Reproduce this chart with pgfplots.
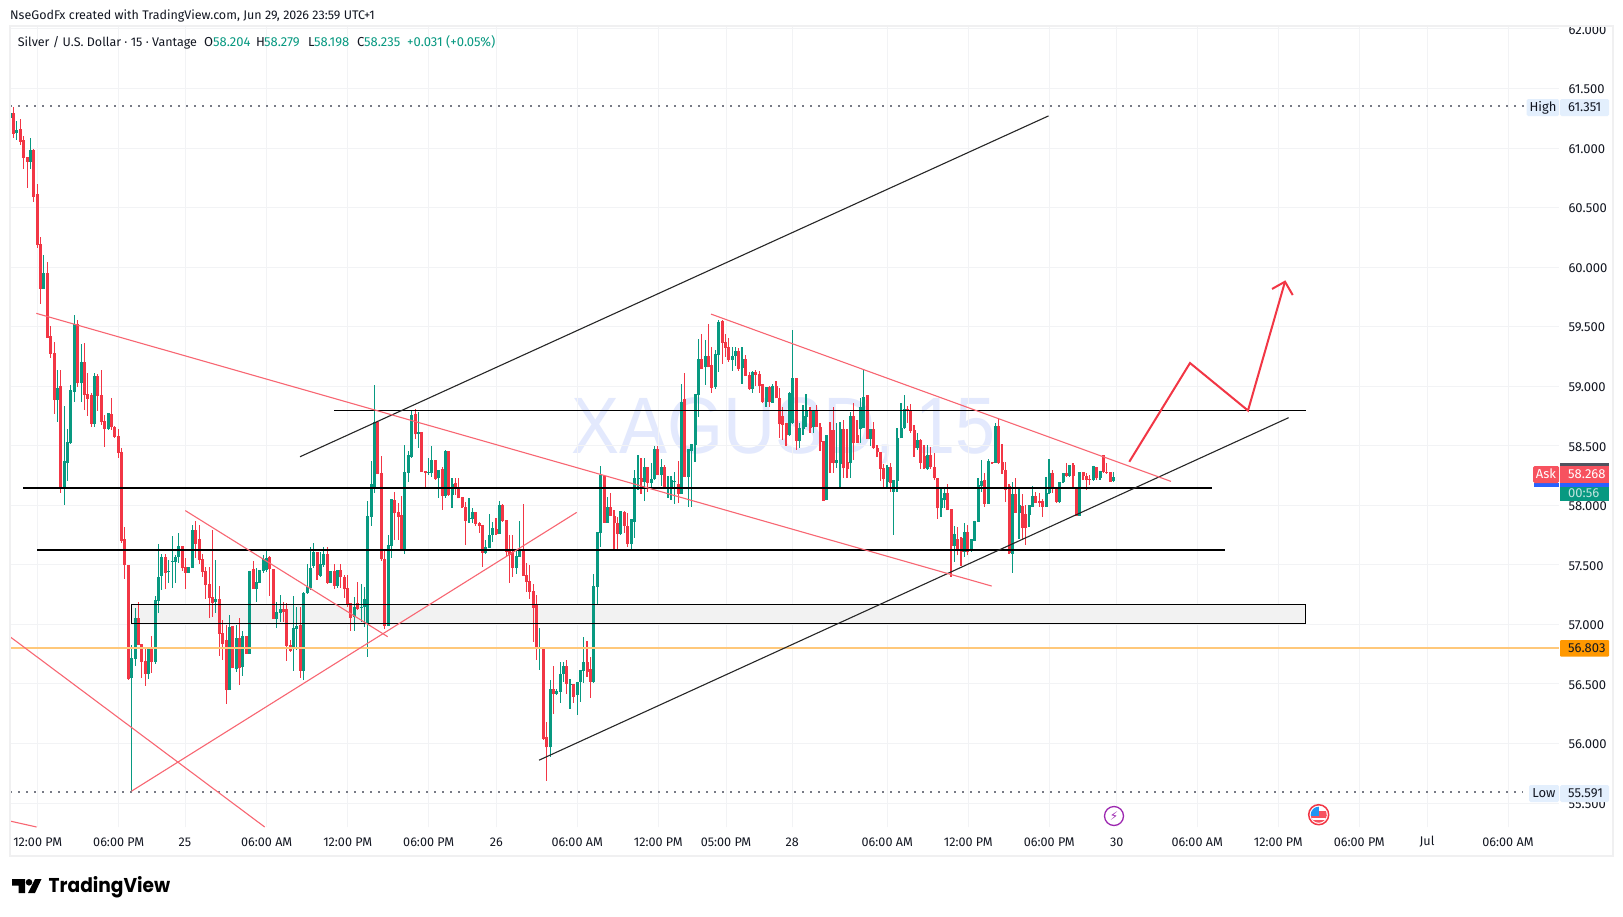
\documentclass[border=0pt]{standalone}
\usepackage{pgfplots}
\usepackage{pgfplotstable}
\usepackage{fontspec}
\pgfplotsset{compat=1.18}
\setmainfont{Fira Sans}
\newfontfamily\logofont{Poppins}
\newfontfamily\wmfont{Liberation Sans}
\newfontfamily\symfont{DejaVu Sans}
\definecolor{tvgreen}{HTML}{089981}
\definecolor{tvred}{HTML}{F23645}
\definecolor{tvline}{HTML}{F86672}
\definecolor{tvlabel}{HTML}{F7525F}
\definecolor{gridc}{HTML}{F2F3F5}
\definecolor{borderc}{HTML}{F0F0F1}
\definecolor{dotc}{HTML}{787B86}
\definecolor{txt}{HTML}{131722}
\definecolor{lblue}{HTML}{E3EFFD}
\definecolor{orangel}{HTML}{FFC87A}
\definecolor{wm}{HTML}{E3E9FD}
\definecolor{cgray}{HTML}{50535E}
\definecolor{cblue}{HTML}{2962FF}
\definecolor{corange}{HTML}{FF9800}
\definecolor{cpurple}{HTML}{9C27B0}
\definecolor{cflag}{HTML}{2196F3}
\pgfplotstableread{
x o h l c
10.5 61.250 61.314 61.054 61.292
16.7 61.130 61.228 61.068 61.152
30.3 60.886 61.085 60.824 60.984
43.7 59.817 60.102 59.817 59.951
57.3 58.884 59.136 58.702 58.985
64.3 58.143 58.834 58.003 58.373
67.3 58.359 58.641 58.207 58.532
70.7 58.521 59.010 58.515 58.968
74.3 58.954 59.598 58.870 59.520
81.3 59.024 59.355 58.870 59.204
94.7 58.683 59.108 58.655 59.086
108.3 58.640 58.778 58.633 58.772
131.3 56.553 56.827 55.591 56.718
135.3 56.710 57.135 56.654 57.051
148.3 56.584 56.813 56.545 56.802
155.3 56.687 57.239 56.668 57.202
158.7 57.200 57.676 57.099 57.396
161.7 57.410 57.592 57.290 57.564
168.7 57.443 57.541 57.345 57.449
172.3 57.525 57.743 57.303 57.530
175.7 57.527 57.583 57.345 57.564
178.7 57.564 57.765 57.513 57.659
188.7 57.435 57.480 57.429 57.480
192.3 57.477 57.832 57.477 57.793
215.3 57.191 57.541 57.099 57.211
229.3 56.449 57.079 56.449 56.978
236.3 56.623 56.995 56.603 56.883
242.3 56.640 56.945 56.567 56.903
249.3 56.752 57.452 56.752 57.452
256.3 57.298 57.471 57.191 57.354
259.3 57.351 57.457 57.351 57.457
263.3 57.449 57.583 57.435 57.547
266.3 57.457 57.631 57.443 57.555
276.3 57.046 57.191 56.973 57.102
280.3 57.099 57.247 57.023 57.127
293.3 56.791 57.239 56.612 56.967
296.3 56.964 57.149 56.785 56.987
303.3 56.612 57.275 56.533 57.261
307.3 57.261 57.507 57.255 57.312
310.3 57.303 57.653 57.290 57.471
313.3 57.491 57.687 57.471 57.608
320.3 57.407 57.611 57.396 57.508
323.3 57.499 57.648 57.485 57.591
330.3 57.351 57.449 57.345 57.449
337.3 57.323 57.457 57.303 57.457
354.3 57.065 57.233 56.948 57.144
361.3 57.141 57.340 57.023 57.146
364.3 57.146 57.317 56.976 57.214
367.3 57.009 58.039 56.729 57.911
371.3 57.904 58.375 57.829 58.179
374.3 58.148 59.010 58.106 58.702
388.3 56.987 57.751 56.987 57.667
391.3 57.662 58.053 57.561 58.053
404.3 57.616 58.506 57.588 58.279
408.3 58.274 58.456 58.198 58.422
411.3 58.408 58.794 58.400 58.758
418.3 58.596 58.786 58.478 58.615
428.3 58.274 58.394 58.254 58.279
431.3 58.274 58.498 58.234 58.380
438.7 58.226 58.296 58.058 58.296
445.3 58.078 58.464 58.058 58.456
452 58.086 58.226 57.974 58.176
469 57.884 58.058 57.848 57.891
472.3 57.884 57.974 57.848 57.943
485.3 57.602 57.708 57.595 57.649
489.3 57.644 57.927 57.638 57.750
492.3 57.750 57.862 57.694 57.806
499.3 57.756 58.036 57.756 58.002
516.3 57.476 57.624 57.423 57.574
519.3 57.568 57.868 57.568 57.633
539.3 56.798 56.966 56.616 56.804
550.3 55.967 56.532 55.888 56.462
556.3 56.415 56.462 56.408 56.440
560.3 56.434 56.686 56.342 56.588
563.3 56.583 56.686 56.518 56.650
570 56.499 56.538 56.294 56.504
577.3 56.406 56.518 56.238 56.518
580.3 56.518 56.616 56.350 56.616
583.3 56.611 56.891 56.510 56.684
593.3 56.518 57.423 56.510 57.322
597.3 57.316 57.773 57.171 57.773
600.3 57.764 58.332 57.652 58.257
607.3 57.854 58.072 57.848 57.983
620.3 57.759 57.952 57.750 57.952
631.3 57.675 57.882 57.630 57.882
634.7 57.862 58.296 57.722 58.226
638 58.218 58.422 58.128 58.226
644.3 58.195 58.394 58.039 58.324
651.3 58.190 58.352 58.156 58.221
654.3 58.221 58.498 58.213 58.475
661.7 58.254 58.386 58.162 58.324
668 58.134 58.249 58.058 58.156
671 58.134 58.249 58.044 58.212
674.7 58.195 58.282 58.011 58.201
681.7 58.095 59.018 58.095 58.867
688.3 58.240 58.473 57.983 58.473
691.3 58.456 58.515 57.988 58.515
695 58.506 58.932 58.366 58.932
698.3 58.926 59.396 58.744 59.226
705.3 59.158 59.388 59.010 59.254
715.3 58.991 59.304 58.974 59.268
718.3 59.262 59.556 59.122 59.536
732.3 59.220 59.332 59.130 59.254
735.3 59.254 59.332 59.170 59.296
742 59.150 59.332 59.018 59.226
752.3 58.976 59.128 58.946 59.122
766 58.870 58.991 58.828 58.991
772.7 58.862 59.018 58.856 58.999
789.3 58.590 58.954 58.585 58.940
792.3 58.688 59.472 58.680 59.069
799.3 58.543 58.688 58.478 58.646
803 58.641 58.842 58.590 58.750
806 58.744 58.934 58.660 58.792
813.3 58.655 58.800 58.610 58.800
826.7 58.044 58.590 58.044 58.590
836.7 58.352 58.688 58.310 58.380
840 58.346 58.702 58.148 58.638
850.3 58.352 58.786 58.226 58.750
860.3 58.638 58.898 58.526 58.828
863.7 58.646 59.142 58.646 58.912
870.3 58.557 58.641 58.500 58.641
887 58.198 58.338 58.142 58.324
893.7 58.114 58.212 57.750 58.212
897 58.207 58.646 58.114 58.562
901 58.562 58.856 58.562 58.646
904.3 58.646 58.926 58.640 58.809
917.7 58.478 58.604 58.464 58.548
927.7 58.302 58.506 58.295 58.422
941 57.974 58.156 57.899 58.058
944.3 58.044 58.156 57.974 58.100
954.7 57.658 57.826 57.526 57.759
964.3 57.610 57.848 57.563 57.773
971.3 57.616 57.717 57.610 57.717
974.7 57.703 57.871 57.703 57.871
978 57.862 58.226 57.862 58.170
981.3 58.165 58.380 58.114 58.204
988.3 58.011 58.386 58.011 58.372
995.3 58.358 58.688 58.358 58.669
1012.7 57.591 58.198 57.428 58.095
1019 57.938 58.148 57.714 58.002
1029 57.918 58.002 57.815 58.002
1032.3 57.988 58.165 57.988 58.078
1046 57.988 58.240 57.988 58.100
1049 58.100 58.389 58.095 58.268
1059.7 58.025 58.193 58.020 58.193
1063 58.193 58.274 58.190 58.268
1069.3 58.249 58.338 58.240 58.338
1079.7 57.913 58.277 57.913 58.277
1093.3 58.212 58.333 58.205 58.333
1100 58.226 58.291 58.217 58.291
1113.7 58.204 58.279 58.198 58.235
}\greentab
\pgfplotstableread{
x o h l c
13.3 61.298 61.348 61.088 61.121
20.3 61.158 61.244 61.026 61.054
23.7 61.068 61.102 60.824 60.920
27.3 60.925 60.928 60.668 60.886
33.3 60.984 60.992 60.550 60.592
37.3 60.615 60.699 60.164 60.186
40.7 60.195 60.253 59.693 59.817
47.3 59.951 60.043 59.408 59.408
50.7 59.422 59.506 59.240 59.274
54.3 59.279 59.372 58.767 58.884
60.7 59.002 59.136 58.107 58.143
77.7 59.520 59.556 58.996 59.024
84.7 59.204 59.366 58.800 58.929
87.7 58.935 59.108 58.750 58.896
91.3 58.926 58.946 58.655 58.683
97.7 59.086 59.103 58.795 58.918
101.3 58.926 59.136 58.675 58.702
104.7 58.708 58.758 58.493 58.640
111.3 58.767 58.898 58.633 58.655
114.7 58.661 58.666 58.563 58.577
118.3 58.583 58.638 58.395 58.443
121.7 58.448 58.482 57.687 57.704
124.3 57.718 57.816 57.382 57.499
128.3 57.499 57.499 56.533 56.539
138.3 57.054 57.186 56.830 56.830
141.7 56.836 56.836 56.547 56.687
145.3 56.690 56.813 56.486 56.584
151.7 56.802 56.903 56.589 56.687
165.3 57.564 57.592 57.300 57.435
182.3 57.659 57.659 57.452 57.471
185.3 57.482 57.555 57.298 57.435
195.3 57.793 57.869 57.555 57.676
199.3 57.717 57.835 57.507 57.541
202.3 57.550 57.592 57.401 57.443
205.3 57.452 57.485 57.211 57.331
209.3 57.340 57.485 57.057 57.225
212.3 57.230 57.793 57.065 57.183
219.3 57.211 57.326 56.735 56.923
222.3 56.925 57.037 56.701 56.836
226.3 56.869 56.995 56.332 56.449
232.3 56.987 56.987 56.631 56.631
239.3 56.883 57.051 56.491 56.631
246.3 56.903 56.903 56.752 56.752
253.3 57.466 57.536 57.298 57.298
269.3 57.564 57.575 57.239 57.466
273.3 57.463 57.463 57.046 57.046
283.3 57.127 57.191 57.023 57.102
286.7 57.127 57.183 56.696 56.819
290.3 56.827 56.869 56.771 56.780
300.3 56.995 57.144 56.547 56.612
317 57.608 57.608 57.373 57.415
327.3 57.591 57.648 57.340 57.351
334.3 57.449 57.505 57.295 57.323
340.3 57.457 57.505 57.303 57.396
344.3 57.401 57.412 57.219 57.295
347.3 57.303 57.412 57.150 57.172
350.7 57.177 57.177 56.948 57.057
357.3 57.180 57.359 57.120 57.130
377.7 58.702 58.702 58.263 58.263
381.3 58.268 58.414 57.535 57.546
384.3 57.550 57.631 56.962 56.987
394.7 58.044 58.114 57.708 57.932
398.3 57.940 58.022 57.708 57.904
401.7 57.918 58.078 57.616 57.616
415.3 58.766 58.806 58.559 58.596
421.3 58.615 58.615 58.282 58.282
425.3 58.288 58.288 58.151 58.274
435.3 58.380 58.380 58.212 58.220
442.3 58.304 58.324 57.960 58.078
448.7 58.456 58.456 58.078 58.086
455.3 58.184 58.232 58.086 58.134
458.7 58.151 58.226 58.058 58.058
462 58.067 58.072 57.980 57.983
465.3 57.983 58.030 57.666 57.871
475.3 57.943 57.943 57.826 57.843
479.3 57.848 57.860 57.764 57.826
482.3 57.831 57.831 57.484 57.602
496 57.800 57.890 57.750 57.756
502.3 58.002 58.010 57.865 57.871
506.3 57.876 57.876 57.568 57.610
509.3 57.624 57.750 57.344 57.582
512.3 57.605 57.750 57.400 57.476
523.3 57.633 58.011 57.408 57.408
526.3 57.414 57.512 57.274 57.358
529.3 57.364 57.498 57.213 57.274
533.3 57.280 57.336 56.854 57.140
536.3 57.168 57.246 56.700 56.798
543.3 56.804 56.804 56.034 56.042
546.3 56.051 56.182 55.684 55.967
553.3 56.462 56.650 56.252 56.415
566.3 56.650 56.700 56.420 56.499
573.3 56.504 56.504 56.342 56.392
587 56.684 56.863 56.560 56.602
590.3 56.630 56.728 56.384 56.518
604 58.248 58.248 57.854 57.854
610.3 57.983 58.100 57.913 57.913
614 57.910 57.960 57.630 57.848
617.3 57.848 57.902 57.630 57.759
624.3 57.946 57.955 57.764 57.828
627.7 57.828 57.932 57.652 57.675
641 58.232 58.394 58.092 58.195
647.7 58.324 58.324 58.114 58.190
657.7 58.473 58.498 58.254 58.254
664.3 58.319 58.338 58.137 58.137
678.3 58.179 58.375 58.016 58.095
684.7 58.890 59.108 58.240 58.240
701.3 59.226 59.438 59.144 59.144
708.3 59.254 59.522 59.158 59.158
711.7 59.178 59.326 58.946 58.988
722.3 59.548 59.556 59.184 59.366
725.3 59.368 59.438 59.248 59.324
728.7 59.326 59.402 59.206 59.220
738.7 59.296 59.318 59.128 59.142
745.3 59.226 59.262 59.088 59.088
749.3 59.094 59.122 58.968 58.976
755.7 59.119 59.136 59.000 59.094
759.3 59.103 59.128 58.946 59.002
762.3 59.018 59.018 58.862 58.870
769.3 58.996 59.002 58.822 58.865
776 59.002 59.044 58.898 58.898
779.3 58.898 58.982 58.562 58.680
782.7 58.750 58.828 58.548 58.674
786 58.688 58.688 58.498 58.590
796.3 59.069 59.069 58.464 58.543
810 58.800 58.828 58.604 58.652
816.7 58.800 58.839 58.655 58.655
820 58.660 58.688 58.459 58.534
823.3 58.540 58.540 58.039 58.039
830 58.632 58.702 58.268 58.352
833.3 58.632 58.828 58.268 58.352
843.3 58.641 58.716 58.232 58.310
847 58.366 58.642 58.226 58.305
853.7 58.750 58.856 58.380 58.520
857 58.590 58.716 58.526 58.526
867 58.926 58.926 58.557 58.557
873.7 58.641 58.702 58.475 58.478
877 58.478 58.506 58.408 58.450
880.3 58.450 58.450 58.207 58.305
883.7 58.310 58.346 58.142 58.218
890.3 58.319 58.352 58.114 58.184
907.3 58.806 58.834 58.688 58.800
910.7 58.800 58.848 58.610 58.627
914 58.632 58.672 58.408 58.484
920.7 58.548 58.553 58.302 58.358
924 58.414 58.506 58.302 58.310
930.7 58.422 58.492 58.302 58.324
934.3 58.324 58.442 58.212 58.226
937.3 58.232 58.232 57.882 57.974
947.7 58.100 58.179 57.960 57.960
951 57.969 57.969 57.400 57.658
957.7 57.714 57.820 57.582 57.616
961 57.722 57.737 57.490 57.610
967.7 57.773 57.834 57.582 57.610
984.7 58.212 58.268 57.983 58.011
992 58.366 58.366 58.346 58.352
998.7 58.666 58.736 58.347 58.358
1002 58.361 58.512 58.262 58.296
1005.7 58.296 58.366 58.030 58.128
1009 58.165 58.179 57.596 57.602
1015.7 58.095 58.226 57.938 57.938
1022.3 57.994 58.095 57.708 57.809
1025.7 57.927 58.002 57.666 57.809
1035.7 58.078 58.114 58.022 58.022
1039.3 58.033 58.106 57.988 58.022
1042.7 58.033 58.050 57.904 57.988
1052.7 58.268 58.296 58.106 58.148
1056.3 58.156 58.156 58.022 58.030
1066.3 58.268 58.352 58.240 58.249
1073 58.338 58.352 58.148 58.249
1076.3 58.148 58.148 57.913 57.913
1083 58.277 58.282 58.212 58.249
1086.3 58.249 58.268 58.128 58.212
1089.7 58.221 58.254 58.170 58.212
1096.7 58.324 58.324 58.217 58.226
1103.3 58.422 58.422 58.268 58.282
1106.7 58.282 58.352 58.268 58.274
1110.3 58.277 58.277 58.198 58.198
}\redtab
\newcommand{\fs}[1]{\fontsize{#1}{#1}\selectfont}
\begin{document}
\begin{tikzpicture}[x=1pt,y=-1pt]
\path[use as bounding box, fill=white] (0,0) rectangle (1623,916);
\node[font=\wmfont\fs{80}, text=wm, xscale=0.9, anchor=center] at (784,431) {XAGUSD, 15};
\begin{axis}[
  at={(10pt,-827pt)}, anchor=south west,
  width=1549pt, height=801pt, scale only axis,
  xmin=10, xmax=1559, ymin=55.299, ymax=62.025,
  axis line style={draw=none},
  major tick length=0pt,
  grid=major, grid style={color=gridc, line width=1pt},
  ytick={55.5,56,56.5,57,57.5,58,58.5,59,59.5,60,60.5,61,61.5,62},
  yticklabel pos=right,
  yticklabel style={font=\fs{13}, text=txt, anchor=west, xshift=6pt, yshift=-1pt,
    /pgf/number format/.cd, fixed, fixed zerofill, precision=3, assume math mode=true},
  xtick={37.7,118.7,185,266.7,347.7,428.7,496.3,577.3,658.3,726,792.3,887.3,968.3,1049.3,1116.7,1197.3,1278.3,1359.3,1427,1508},
  xticklabels={12:00 PM,06:00 PM,25,06:00 AM,12:00 PM,06:00 PM,26,06:00 AM,12:00 PM,05:00 PM,28,06:00 AM,12:00 PM,06:00 PM,30,06:00 AM,12:00 PM,06:00 PM,Jul,06:00 AM},
  xticklabel style={font=\fs{12.6}, text=txt, anchor=center, yshift=-15pt},
  clip=true,
]
% zone fill
\addplot[fill=black!5, draw=none, forget plot] coordinates {(131.3,57.169)(1305.7,57.169)(1305.7,57.009)(131.3,57.009)} -- cycle;
% wicks
\addplot[draw=none, mark=none, forget plot, error bars/.cd, y dir=both, y explicit, error mark=none, error bar style={color=tvgreen, line width=1.1pt}]
  table[x=x, y=c, y error plus expr=\thisrow{h}-\thisrow{c}, y error minus expr=\thisrow{c}-\thisrow{l}] {\greentab};
\addplot[draw=none, mark=none, forget plot, error bars/.cd, y dir=both, y explicit, error mark=none, error bar style={color=tvred, line width=1.1pt}]
  table[x=x, y=c, y error plus expr=\thisrow{h}-\thisrow{c}, y error minus expr=\thisrow{c}-\thisrow{l}] {\redtab};
% bodies
\addplot[draw=none, mark=none, forget plot, error bars/.cd, y dir=plus, y explicit, error mark=none, error bar style={color=tvgreen, line width=3pt}]
  table[x=x, y=o, y error plus expr=\thisrow{c}-\thisrow{o}] {\greentab};
\addplot[draw=none, mark=none, forget plot, error bars/.cd, y dir=plus, y explicit, error mark=none, error bar style={color=tvred, line width=3pt}]
  table[x=x, y=c, y error plus expr=\thisrow{o}-\thisrow{c}] {\redtab};
% high, low, last
\addplot[dotc, line width=1.6pt, dash pattern=on 1.6pt off 6.4pt, forget plot] coordinates {(10,61.351)(1524,61.351)};
\addplot[dotc, line width=1.6pt, dash pattern=on 1.6pt off 6.4pt, forget plot] coordinates {(10,55.591)(1523,55.591)};
\addplot[orangel, line width=2pt, forget plot] coordinates {(10,56.803)(1559,56.803)};
% zone border
\addplot[black, line width=1.3pt, forget plot] coordinates {(131.3,57.169)(1305.7,57.169)(1305.7,57.009)(131.3,57.009)} -- cycle;
% horizontals
\addplot[black, line width=1.3pt, forget plot] coordinates {(334,58.797)(1305.7,58.797)};
\addplot[black, line width=2.2pt, forget plot] coordinates {(23,58.148)(1212,58.148)};
\addplot[black, line width=2.2pt, forget plot] coordinates {(37,57.627)(1225,57.627)};
% black trend lines
\addplot[black!85, line width=1.1pt, forget plot] coordinates {(300,58.408)(1048.5,61.27)};
\addplot[black!85, line width=1.1pt, forget plot] coordinates {(539,55.860)(1288.6,58.736)};
% red trend lines
\addplot[tvline, line width=1.1pt, forget plot] coordinates {(36.3,59.612)(991.7,57.322)};
\addplot[tvline, line width=1.1pt, forget plot] coordinates {(10,56.897)(264.7,55.299)};
\addplot[tvline, line width=1.1pt, forget plot] coordinates {(10,55.349)(36.6,55.299)};
\addplot[tvline, line width=1.1pt, forget plot] coordinates {(131.5,55.6)(576.7,57.941)};
\addplot[tvline, line width=1.1pt, forget plot] coordinates {(185.3,57.956)(387.7,56.897)};
\addplot[tvline, line width=1.1pt, forget plot] coordinates {(711,59.606)(1171,58.201)};
% forecast arrow
\addplot[tvred, line width=2pt, forget plot] coordinates {(1129.3,58.366)(1190,59.195)(1248,58.796)(1285,59.878)};
\addplot[tvred, line width=2pt, forget plot] coordinates {(1272,59.817)(1285,59.878)(1292.7,59.766)};
\end{axis}
% frame
\fill[white] (0,0) rectangle (1623,25);
\draw[borderc, line width=2.5pt] (10,26) -- (1613,26) -- (1613,856) -- (10,856) -- cycle;
% header
\node[font=\fs{12.5}, text=txt, anchor=mid west, inner sep=0] at (10,16.5) {NseGodFx created with TradingView.com, Jun 29, 2026 23:59 UTC+1};
\node[font=\fs{12.5}, text=txt, anchor=mid west, inner sep=0] at (17.7,44) {Silver / U.S. Dollar · 15 · Vantage};
\foreach \px/\t in {204/O,256/H,308/L,357/C}
  \node[font=\fs{13}, text=txt, anchor=mid west, inner sep=0] at (\px,44) {\t};
\foreach \px/\t in {213/58.204,264/58.279,314/58.198,364/58.235,407/+0.031,446/(+0.05\%)}
  \node[font=\fs{13}, text=tvgreen, anchor=mid west, inner sep=0] at (\px,44) {\t};
% price labels
\fill[lblue, rounded corners=1.5pt] (1526.7,99) rectangle (1559,116);
\fill[lblue, rounded corners=1.5pt] (1560,99) rectangle (1609,116);
\node[font=\fs{13}, text=txt, anchor=mid] at (1543,108.5) {High};
\node[font=\fs{13}, text=txt, anchor=mid west, inner sep=0] at (1568,108.5) {61.351};
\fill[lblue, rounded corners=1.5pt] (1529,785) rectangle (1559,802);
\fill[lblue, rounded corners=1.5pt] (1560,785) rectangle (1609,802);
\node[font=\fs{13}, text=txt, anchor=mid] at (1544,794.5) {Low};
\node[font=\fs{13}, text=txt, anchor=mid west, inner sep=0] at (1568,794.5) {55.591};
\fill[cgray] (1560,463) rectangle (1609,466);
\fill[cblue] (1534,483) rectangle (1559,487);
\fill[cblue] (1560,483) rectangle (1609,487);
\fill[tvgreen] (1560,487) rectangle (1609,501);
\fill[tvlabel, rounded corners=1.5pt] (1533,466) rectangle (1559,483);
\fill[tvlabel] (1560,466) rectangle (1609,483);
\node[font=\fs{13}, text=white, anchor=mid] at (1546,475.5) {Ask};
\node[font=\fs{13}, text=white, anchor=mid west, inner sep=0] at (1568,475.5) {58.268};
\node[font=\fs{13}, text=white!75!tvgreen, anchor=mid west, inner sep=0] at (1568,494.5) {00:56};
\fill[corange, rounded corners=1pt] (1560,640) rectangle (1609,656.7);
\node[font=\fs{13}, text=txt, anchor=mid west, inner sep=0] at (1568,649.5) {56.803};
% event icons
\draw[cpurple, line width=1.3pt, fill=white] (1114,816) circle (9.5);
\node[font=\symfont\fs{12}, text=cpurple] at (1114,816) {⚡};
\draw[tvred, line width=1.5pt, fill=white] (1318.7,814.7) circle (10);
\begin{scope}
\clip (1318.7,814.7) circle (8);
\fill[tvlabel] (1308,815) rectangle (1330,824);
\fill[white] (1308,818) rectangle (1330,820);
\fill[cflag] (1308,806) rectangle (1319,816);
\fill[tvlabel] (1319,811) rectangle (1330,816);
\end{scope}
% logo
\fill[black] (12,879) -- (25,879) -- (25,893) -- (18.5,893) -- (18.5,885.5) -- (12,885.5) -- cycle;
\fill[black] (29,882.3) circle (3.3);
\fill[black] (35,879) -- (41.5,879) -- (35,893) -- (28,893) -- cycle;
\node[font=\logofont\bfseries\fs{20}, text=black, anchor=mid west, inner sep=0, xscale=0.93] at (48.5,890) {TradingView};
\end{tikzpicture}
\end{document}
